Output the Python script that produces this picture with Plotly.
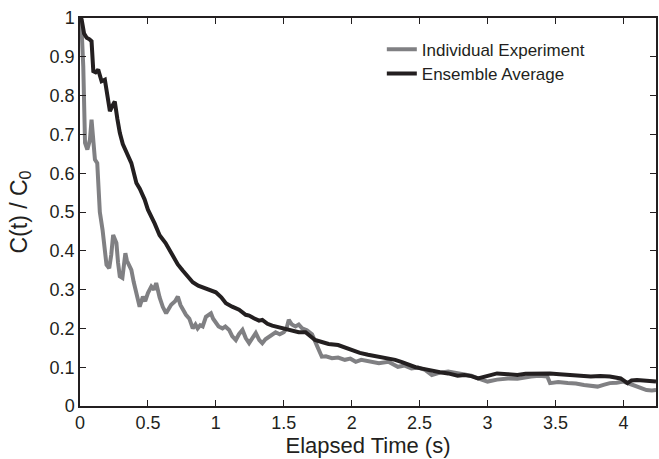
import plotly.graph_objects as go

# Individual Experiment (grey)
indiv_t = [0, 0.012, 0.024, 0.037, 0.054, 0.073, 0.085, 0.098, 0.11, 0.127, 0.135, 0.146,
           0.166, 0.18, 0.195, 0.215, 0.23, 0.244, 0.256, 0.268, 0.28, 0.293, 0.312, 0.325,
           0.334, 0.345, 0.354, 0.378, 0.395, 0.415, 0.439, 0.463, 0.48, 0.5, 0.525, 0.545,
           0.561, 0.586, 0.61, 0.634, 0.655, 0.671, 0.7, 0.72, 0.74, 0.756, 0.78, 0.805,
           0.83, 0.85, 0.866, 0.885, 0.903, 0.927, 0.964, 0.98, 1.0, 1.02, 1.049, 1.07,
           1.098, 1.12, 1.147, 1.17, 1.196, 1.22, 1.245, 1.27, 1.294, 1.32, 1.342, 1.365,
           1.391, 1.415, 1.44, 1.47, 1.5, 1.52, 1.537, 1.56, 1.586, 1.61, 1.635, 1.67,
           1.708, 1.745, 1.78, 1.81, 1.855, 1.9, 1.95, 1.99, 2.03, 2.07, 2.12, 2.16, 2.2,
           2.27, 2.34, 2.39, 2.44, 2.49, 2.54, 2.59, 2.65, 2.71, 2.77, 2.83, 2.88, 2.93,
           3.0, 3.07, 3.15, 3.22, 3.27, 3.32, 3.38, 3.44, 3.46, 3.52, 3.59, 3.65, 3.71,
           3.76, 3.81, 3.86, 3.90, 3.95, 4.0, 4.04, 4.07, 4.12, 4.17, 4.21, 4.24]
indiv_c = [1.0, 0.97, 0.876, 0.678, 0.661, 0.686, 0.738, 0.678, 0.635, 0.626, 0.58, 0.50,
           0.454, 0.41, 0.364, 0.355, 0.39, 0.441, 0.43, 0.42, 0.37, 0.334, 0.33, 0.37,
           0.394, 0.375, 0.368, 0.351, 0.32, 0.286, 0.256, 0.282, 0.27, 0.291, 0.308, 0.30,
           0.317, 0.28, 0.255, 0.239, 0.25, 0.261, 0.27, 0.282, 0.26, 0.248, 0.235, 0.225,
           0.2, 0.21, 0.2, 0.208, 0.205, 0.23, 0.239, 0.225, 0.213, 0.205, 0.2, 0.205,
           0.196, 0.18, 0.17, 0.185, 0.196, 0.175, 0.162, 0.175, 0.188, 0.17, 0.162, 0.172,
           0.179, 0.185, 0.19, 0.185, 0.19, 0.2, 0.222, 0.21, 0.205, 0.21, 0.2, 0.195,
           0.185, 0.155, 0.127, 0.128, 0.123, 0.125, 0.119, 0.122, 0.114, 0.119, 0.116, 0.112, 0.11,
           0.114, 0.101, 0.104, 0.097, 0.099, 0.093, 0.08, 0.086, 0.089, 0.085, 0.08, 0.078, 0.071,
           0.063, 0.068, 0.071, 0.07, 0.074, 0.076, 0.078, 0.076, 0.059, 0.062, 0.059, 0.058, 0.054,
           0.052, 0.05, 0.055, 0.059, 0.06, 0.063, 0.058, 0.054, 0.05, 0.041, 0.04, 0.041]

# Ensemble Average (black)
ens_t = [0, 0.012, 0.03, 0.049, 0.07, 0.085, 0.098, 0.115, 0.134, 0.159, 0.183, 0.2,
         0.22, 0.24, 0.256, 0.275, 0.293, 0.315, 0.342, 0.378, 0.415, 0.44, 0.476, 0.5,
         0.55, 0.586, 0.63, 0.683, 0.72, 0.756, 0.79, 0.83, 0.87, 0.903, 0.95, 1.0, 1.04,
         1.074, 1.12, 1.171, 1.22, 1.245, 1.28, 1.318, 1.342, 1.38, 1.415, 1.44, 1.5, 1.56,
         1.61, 1.66, 1.7, 1.73, 1.78, 1.83, 1.9, 1.95, 2.0, 2.06, 2.12, 2.18, 2.245, 2.32,
         2.37, 2.42, 2.47, 2.51, 2.55, 2.59, 2.65, 2.71, 2.78, 2.83, 2.88, 2.93, 3.0, 3.07,
         3.15, 3.22, 3.28, 3.34, 3.4, 3.46, 3.53, 3.61, 3.68, 3.76, 3.83, 3.90, 3.98, 4.03,
         4.06, 4.1, 4.17, 4.24]
ens_c = [1.0, 0.996, 0.96, 0.949, 0.945, 0.94, 0.863, 0.86, 0.867, 0.837, 0.841, 0.80,
         0.76, 0.775, 0.785, 0.74, 0.704, 0.675, 0.656, 0.626, 0.575, 0.56, 0.532, 0.506,
         0.47, 0.44, 0.42, 0.387, 0.365, 0.349, 0.335, 0.319, 0.31, 0.306, 0.30, 0.293, 0.28,
         0.265, 0.256, 0.248, 0.235, 0.233, 0.226, 0.22, 0.222, 0.212, 0.207, 0.205, 0.2, 0.196,
         0.19, 0.19, 0.18, 0.17, 0.165, 0.16, 0.157, 0.15, 0.144, 0.137, 0.132, 0.128, 0.123, 0.119,
         0.113, 0.106, 0.1, 0.097, 0.094, 0.089, 0.087, 0.084, 0.078, 0.08, 0.077, 0.071, 0.078, 0.084,
         0.082, 0.08, 0.083, 0.084, 0.083, 0.084, 0.082, 0.08, 0.079, 0.076, 0.077, 0.076, 0.071, 0.059,
         0.066, 0.067, 0.065, 0.063]

x_ticks = [0, 0.5, 1, 1.5, 2, 2.5, 3, 3.5, 4]
y_ticks = [0, 0.1, 0.2, 0.3, 0.4, 0.5, 0.6, 0.7, 0.8, 0.9, 1]

GREY = "#808083"
BLACK = "#231f20"
FONT = "Liberation Sans, Arial, sans-serif"

fig = go.Figure()
fig.add_trace(go.Scatter(x=indiv_t, y=indiv_c, mode="lines", name="Individual Experiment",
                         line=dict(color=GREY, width=4), legend="legend"))
fig.add_trace(go.Scatter(x=ens_t, y=ens_c, mode="lines", name="Ensemble Average",
                         line=dict(color=BLACK, width=4), legend="legend2"))

axis_common = dict(showline=True, linecolor=BLACK, linewidth=1.5, mirror="ticks",
                   ticks="inside", ticklen=6, tickwidth=1.3, tickcolor=BLACK,
                   showgrid=False, zeroline=False,
                   tickfont=dict(family=FONT, size=18, color=BLACK))

leg_common = dict(xanchor="left", yanchor="middle", bgcolor="rgba(0,0,0,0)",
                  borderwidth=0, itemwidth=30,
                  font=dict(family=FONT, size=17, color=BLACK))

fig.update_layout(
    width=659, height=459,
    margin=dict(l=80, r=1, t=18, b=53),
    paper_bgcolor="white", plot_bgcolor="white",
    font=dict(family=FONT, color=BLACK),
    xaxis=dict(range=[0, 4.24], tickvals=x_ticks,
               ticktext=[f"{v:g}" for v in x_ticks],
               title=dict(text="Elapsed Time (s)", font=dict(family=FONT, size=22, color=BLACK),
                          standoff=5),
               **axis_common),
    yaxis=dict(range=[0, 1], tickvals=y_ticks,
               ticktext=[f"{v:g}" for v in y_ticks],
               title=dict(text="C(t) / C<sub>0</sub>", font=dict(family=FONT, size=23, color=BLACK),
                          standoff=16),
               **axis_common),
    legend=dict(x=0.524, y=0.918, **leg_common),
    legend2=dict(x=0.524, y=0.856, **leg_common),
    showlegend=True,
)

fig.write_html("out.html")
